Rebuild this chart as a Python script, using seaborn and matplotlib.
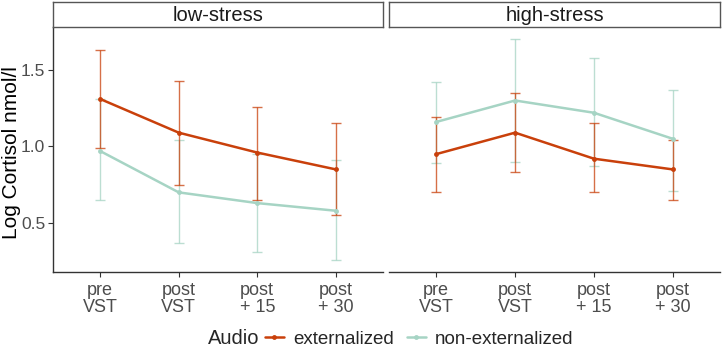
import matplotlib
matplotlib.use("Agg")
import matplotlib.pyplot as plt
import seaborn as sns
import pandas as pd
import numpy as np
from matplotlib.lines import Line2D

sns.set_theme(style="white")
plt.rcParams['font.family'] = ['Liberation Sans', 'DejaVu Sans']

# ---- data ----
time_labels = ["pre\nVST", "post\nVST", "post\n+ 15", "post\n+ 30"]
panels = ["low-stress", "high-stress"]
audio_levels = ["externalized", "non-externalized"]

low_ext_mean = [1.31, 1.09, 0.96, 0.85]
low_ext_lo   = [0.99, 0.75, 0.65, 0.55]
low_ext_hi   = [1.63, 1.43, 1.26, 1.15]
low_non_mean = [0.97, 0.70, 0.63, 0.58]
low_non_lo   = [0.65, 0.37, 0.31, 0.26]
low_non_hi   = [1.31, 1.04, 0.95, 0.91]

high_ext_mean = [0.95, 1.09, 0.92, 0.85]
high_ext_lo   = [0.70, 0.83, 0.70, 0.65]
high_ext_hi   = [1.19, 1.35, 1.15, 1.04]
high_non_mean = [1.16, 1.30, 1.22, 1.05]
high_non_lo   = [0.89, 0.90, 0.87, 0.71]
high_non_hi   = [1.42, 1.70, 1.58, 1.37]

colors = {"externalized": "#C9400B", "non-externalized": "#A6D4C4"}

rows = []
series = {
    ("low-stress", "externalized"): (low_ext_mean, low_ext_lo, low_ext_hi),
    ("low-stress", "non-externalized"): (low_non_mean, low_non_lo, low_non_hi),
    ("high-stress", "externalized"): (high_ext_mean, high_ext_lo, high_ext_hi),
    ("high-stress", "non-externalized"): (high_non_mean, high_non_lo, high_non_hi),
}
for (stress, audio), (m, lo, hi) in series.items():
    for i, t in enumerate(time_labels):
        rows.append(dict(stress=stress, audio=audio, time=t, pos=i,
                         mean=m[i], lo=lo[i], hi=hi[i]))
df = pd.DataFrame(rows)

W, H = 722, 349
fig = plt.figure(figsize=(W / 100, H / 100), dpi=100)

panel_x = [(53, 383), (389, 720)]
top, bottom = 27, 272
tick_col = "#4D4D4D"

for k, stress in enumerate(panels):
    x0, x1 = panel_x[k]
    ax = fig.add_axes([x0 / W, 1 - bottom / H, (x1 - x0) / W, (bottom - top) / H])
    sub = df[df.stress == stress]
    for audio in ["non-externalized", "externalized"]:
        s = sub[sub.audio == audio]
        ax.errorbar(s.pos, s["mean"], yerr=[s["mean"] - s.lo, s.hi - s["mean"]],
                    fmt="none", ecolor=colors[audio], elinewidth=1.0, capsize=3.5,
                    capthick=1.0, alpha=0.75, zorder=2)
    sns.lineplot(data=sub, x="pos", y="mean", hue="audio", hue_order=audio_levels[::-1],
                 palette=colors, marker="o", markersize=3.5, markeredgewidth=0,
                 linewidth=1.8, ax=ax, legend=False, sort=False, zorder=3)
    ax.set_xlim(-0.6, 3.6)
    ax.set_ylim(0.18, 1.78)
    ax.set_xticks(range(len(time_labels)))
    ax.set_xticklabels(time_labels, fontsize=13, color=tick_col, linespacing=1.05)
    ax.set_xlabel("")
    ax.tick_params(axis="x", length=3.5, width=0.8, color="#333333", pad=3.5, bottom=True)
    ax.grid(False)
    for sp in ["top", "right"]:
        ax.spines[sp].set_visible(False)
    ax.spines["bottom"].set_color("#333333")
    ax.spines["bottom"].set_linewidth(1.0)
    if k == 0:
        ax.set_yticks([0.5, 1.0, 1.5])
        ax.set_yticklabels(["0.5", "1.0", "1.5"], fontsize=12.5, color=tick_col)
        ax.tick_params(axis="y", length=3.5, width=0.8, color="#333333", pad=2, left=True)
        ax.spines["left"].set_color("#333333")
        ax.spines["left"].set_linewidth(1.0)
        ax.set_ylabel("")
    else:
        ax.spines["left"].set_visible(False)
        ax.set_yticks([])
        ax.set_ylabel("")
    sax = fig.add_axes([x0 / W, 1 - top / H, (x1 - x0) / W, (top - 2) / H])
    sax.set_xticks([]); sax.set_yticks([])
    sax.set_facecolor("white")
    for sp in sax.spines.values():
        sp.set_color("#555555"); sp.set_linewidth(1.0); sp.set_visible(True)
    sax.text(0.5, 0.47, stress, ha="center", va="center", fontsize=14.5,
             color="#1A1A1A", transform=sax.transAxes)

fig.text(12 / W, 1 - 153 / H, "Log Cortisol nmol/l", fontsize=15, rotation=90,
         ha="center", va="center", color="black")

handles = [Line2D([0], [0], color=colors[a], lw=1.8, marker="o", markersize=3.5,
                  markeredgewidth=0) for a in audio_levels]
fig.text(208 / W, 1 - 339 / H, "Audio", fontsize=14.5, ha="left", va="center")
fig.legend(handles, audio_levels, loc="center left", bbox_to_anchor=(265 / W, 1 - 339 / H),
           ncol=2, frameon=False, fontsize=13.5, handlelength=1.0, handletextpad=0.5,
           columnspacing=0.7, borderaxespad=0, borderpad=0)

fig.savefig("out.png", dpi=100)
